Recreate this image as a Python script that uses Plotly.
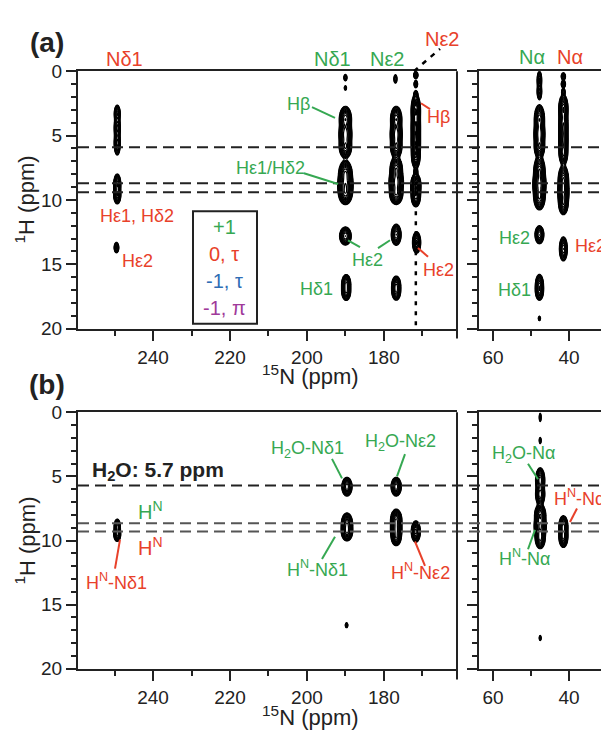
import numpy as np
import plotly.graph_objects as go

W, H = 601, 741

# ---------------- data ----------------
# peaks: (15N ppm, 1H ppm, sigma N, sigma H, amplitude)
peaks_a_left = [
    (249.3, 3.3, 0.35, 0.30, 0.6), (249.3, 4.4, 0.35, 0.45, 0.7), (249.3, 5.6, 0.35, 0.40, 0.7),
    (249.3, 8.8, 0.40, 0.35, 0.8), (249.3, 9.6, 0.40, 0.30, 0.8), (249.5, 13.7, 0.30, 0.20, 0.4),
    (190.0, 0.5, 0.25, 0.15, 0.2), (190.0, 1.3, 0.20, 0.12, 0.15),
    (190.0, 3.7, 0.65, 0.40, 1.0), (190.0, 4.9, 0.70, 0.50, 1.0), (190.0, 5.9, 0.65, 0.35, 1.0),
    (190.0, 7.9, 0.70, 0.40, 1.0), (190.0, 8.8, 0.80, 0.45, 1.2), (190.0, 9.5, 0.70, 0.35, 1.0),
    (190.0, 12.8, 0.65, 0.30, 0.8), (189.8, 16.5, 0.50, 0.30, 0.8), (189.8, 17.1, 0.50, 0.30, 0.8),
    (177.0, 0.6, 0.25, 0.20, 0.2),
    (176.8, 3.7, 0.60, 0.40, 1.0), (176.8, 4.9, 0.65, 0.50, 1.0), (176.8, 5.9, 0.60, 0.35, 1.0),
    (176.8, 7.6, 0.65, 0.40, 1.0), (176.8, 8.6, 0.75, 0.45, 1.2), (176.8, 9.5, 0.70, 0.35, 1.0),
    (176.8, 12.7, 0.55, 0.35, 0.8), (176.8, 16.6, 0.50, 0.30, 0.7), (176.8, 17.1, 0.50, 0.30, 0.7),
    (171.7, 0.3, 0.30, 0.15, 0.3), (171.7, 1.0, 0.25, 0.15, 0.3), (171.7, 1.8, 0.25, 0.15, 0.3),
    (171.7, 3.0, 0.50, 0.50, 1.0), (171.7, 4.3, 0.50, 0.60, 1.0), (171.7, 5.6, 0.50, 0.60, 1.0),
    (171.7, 6.6, 0.45, 0.40, 0.9), (171.7, 7.8, 0.25, 0.15, 0.3),
    (171.7, 8.9, 0.55, 0.40, 1.0), (171.7, 9.7, 0.50, 0.35, 0.9), (171.5, 13.3, 0.45, 0.35, 0.9),
]
peaks_a_right = [
    (47.8, 0.7, 0.30, 0.35, 0.4), (47.8, 1.6, 0.30, 0.30, 0.4),
    (47.8, 3.7, 0.55, 0.45, 1.0), (47.8, 4.9, 0.60, 0.50, 1.0), (47.8, 5.9, 0.55, 0.35, 1.0),
    (47.8, 7.7, 0.60, 0.45, 1.0), (47.8, 8.8, 0.70, 0.50, 1.2), (47.8, 9.8, 0.60, 0.40, 1.0),
    (47.8, 12.7, 0.50, 0.30, 0.8), (47.8, 16.6, 0.45, 0.35, 0.8), (47.8, 17.1, 0.45, 0.30, 0.7),
    (47.8, 19.2, 0.20, 0.12, 0.15),
    (41.5, 0.4, 0.30, 0.15, 0.3), (41.5, 1.0, 0.30, 0.15, 0.3), (41.5, 1.6, 0.25, 0.15, 0.25),
    (41.5, 2.9, 0.50, 0.45, 1.0), (41.5, 4.2, 0.50, 0.60, 1.0), (41.5, 5.5, 0.50, 0.60, 1.0),
    (41.5, 6.4, 0.45, 0.35, 0.9), (41.5, 8.4, 0.55, 0.45, 1.0), (41.5, 9.4, 0.60, 0.50, 1.1),
    (41.5, 10.3, 0.50, 0.35, 0.9), (41.5, 13.8, 0.45, 0.40, 0.8),
]
peaks_b_left = [
    (249.3, 8.9, 0.35, 0.25, 0.7), (249.3, 9.5, 0.40, 0.25, 0.7),
    (189.6, 5.8, 0.55, 0.30, 1.0), (189.6, 8.7, 0.60, 0.35, 1.0), (189.6, 9.3, 0.60, 0.30, 1.0),
    (189.7, 16.6, 0.20, 0.12, 0.2),
    (176.8, 5.8, 0.55, 0.30, 1.0), (176.8, 8.4, 0.60, 0.35, 1.0), (176.8, 9.2, 0.60, 0.40, 1.1),
    (176.8, 9.8, 0.50, 0.25, 0.7), (171.7, 9.3, 0.50, 0.35, 0.9),
]
peaks_b_right = [
    (47.6, 0.4, 0.15, 0.20, 0.2), (47.6, 2.2, 0.15, 0.15, 0.2),
    (47.6, 5.3, 0.50, 0.40, 1.0), (47.6, 6.4, 0.50, 0.35, 1.0),
    (47.6, 8.0, 0.60, 0.35, 1.0), (47.6, 8.9, 0.65, 0.40, 1.1), (47.6, 9.8, 0.55, 0.35, 0.9),
    (47.6, 17.6, 0.15, 0.12, 0.2),
    (41.5, 8.9, 0.50, 0.35, 0.9), (41.5, 9.7, 0.50, 0.35, 0.9),
]
ref_lines_a = [5.9, 8.7, 9.4]
ref_lines_b = [5.7, 8.65, 9.3]
ne2_column = 171.7
x_ticks_left = [240, 220, 200, 180]
x_ticks_right = [60, 40]
y_ticks = [0, 5, 10, 15, 20]
legend_labels = ["+1", "0, τ", "-1, τ", "-1, π"]

GREEN = "#36a852"
RED = "#e8412a"
BLUE = "#2f6db5"
PURPLE = "#a03a9a"
INK = "#222222"
FONT = "Liberation Sans, Arial, sans-serif"


def spectrum(peaks):
    cols = sorted(set(p[0] for p in peaks))
    xs = set()
    for c in cols:
        for d in np.arange(-2.5, 2.51, 0.1):
            xs.add(round(c + d, 2))
    xs = np.array(sorted(xs))
    ys = np.arange(-0.3, 20.31, 0.04)
    X, Y = np.meshgrid(xs, ys)
    Z = np.zeros_like(X)
    for n, h, sn, sh, a in peaks:
        Z += a * np.exp(-0.5 * ((X - n) / sn) ** 2 - 0.5 * ((Y - h) / sh) ** 2)
    return xs, ys, np.log10(Z + 1e-4).astype(np.float32)


def px(x):
    return x / W


def py(y):
    return 1 - y / H


fig = go.Figure()
for peaks, xa, ya in [(peaks_a_left, "x", "y"), (peaks_a_right, "x2", "y2"),
                      (peaks_b_left, "x3", "y3"), (peaks_b_right, "x4", "y4")]:
    xs, ys, zz = spectrum(peaks)
    fig.add_trace(go.Contour(
        x=xs, y=ys, z=zz, xaxis=xa, yaxis=ya,
        contours=dict(start=-1.3, end=0.3, size=0.12, coloring="none"),
        line=dict(color="black", width=1.2), showscale=False, hoverinfo="skip"))


def xaxis(domain, rng, ticks, anchor):
    return dict(domain=domain, range=rng, anchor=anchor, tickmode="array", tickvals=ticks,
                ticks="outside", ticklen=10, tickwidth=2, tickcolor=INK,
                showline=True, linecolor=INK, linewidth=2, mirror=True,
                showgrid=False, zeroline=False,
                minor=dict(dtick=10, tick0=0, ticks="outside", ticklen=5, tickwidth=2, tickcolor=INK),
                tickfont=dict(size=19, color=INK, family=FONT))


def yaxis(domain, anchor, labels):
    return dict(domain=domain, range=[20, 0], anchor=anchor, tickmode="array", tickvals=y_ticks,
                ticks="outside", ticklen=10, tickwidth=2, tickcolor=INK,
                showline=True, linecolor=INK, linewidth=2, mirror=False,
                showgrid=False, zeroline=False, showticklabels=labels,
                minor=dict(dtick=1, tick0=0, ticks="outside", ticklen=5, tickwidth=2, tickcolor=INK),
                tickfont=dict(size=19, color=INK, family=FONT))


XL = [px(78), px(457)]
XR = [px(479), 1.0]
YA = [py(328), py(63)]
YB = [py(678), py(414)]
RNG_L = [259.5, 161.0]
RNG_R = [63.7, 31.6]

shapes = []
# reference dashed lines
for v in ref_lines_a:
    shapes.append(dict(type="line", xref="paper", yref="y", x0=px(78), x1=1.0, y0=v, y1=v,
                       line=dict(color=INK, width=2, dash="11px,6px")))
for i, v in enumerate(ref_lines_b):
    shapes.append(dict(type="line", xref="paper", yref="y3", x0=px(78), x1=1.0, y0=v, y1=v,
                       line=dict(color=INK if i == 0 else "#555555", width=2, dash="11px,6px")))
# vertical dotted line through N-epsilon2 column
shapes.append(dict(type="line", xref="x", yref="y", x0=ne2_column, x1=ne2_column, y0=0, y1=20,
                   line=dict(color="black", width=2.5, dash="4px,6px")))
shapes.append(dict(type="line", xref="paper", yref="paper", x0=px(414), y0=py(63), x1=px(440), y1=py(40),
                   line=dict(color="black", width=2.5, dash="5px,6px")))
# right border of left panels (extends below axis)
for top, bot in [(63, 338), (414, 689)]:
    shapes.append(dict(type="line", xref="paper", yref="paper", x0=px(457), x1=px(457),
                       y0=py(top), y1=py(bot), line=dict(color=INK, width=2)))
# legend box
shapes.append(dict(type="rect", xref="paper", yref="paper", x0=px(193), x1=px(257),
                   y0=py(207), y1=py(323), line=dict(color=INK, width=2), fillcolor="rgba(0,0,0,0)"))
# leader lines
leaders = [
    ((312, 100), (335, 111), GREEN), ((421, 96), (430, 102), RED),
    ((304, 168), (338, 179), GREEN), ((348, 237), (360, 244), GREEN),
    ((390, 237), (378, 245), GREEN), ((418, 245), (428, 254), RED),
    ((115, 575), (120, 545), RED), ((332, 462), (342, 482), GREEN),
    ((405, 457), (397, 480), GREEN), ((322, 565), (335, 542), GREEN),
    ((425, 572), (415, 547), RED), ((528, 467), (538, 483), GREEN),
    ((528, 555), (535, 535), GREEN), ((570, 527), (577, 513), RED),
]
for (x0, y0), (x1, y1), c in leaders:
    shapes.append(dict(type="line", xref="paper", yref="paper", x0=px(x0), y0=py(y0),
                       x1=px(x1), y1=py(y1), line=dict(color=c, width=2)))

ann = []


def A(text, x, y, color=INK, size=18, xanchor="center", angle=0):
    ann.append(dict(text=text, x=px(x), y=py(y), xref="paper", yref="paper", showarrow=False,
                    xanchor=xanchor, yanchor="middle", textangle=angle,
                    font=dict(size=size, color=color, family=FONT)))


A("<b>(a)</b>", 47, 33, size=28)
A("Nδ1", 124, 50, RED, 20)
A("Nδ1", 332, 50, GREEN, 20)
A("Nε2", 387, 50, GREEN, 20)
A("Nε2", 442, 30, RED, 20)
A("Nα", 532, 48, GREEN, 20)
A("Nα", 570, 48, RED, 20)
A("Hβ", 298, 97, GREEN)
A("Hβ", 438, 110, RED)
A("Hε1/Hδ2", 270, 163, GREEN)
A("Hε1, Hδ2", 137, 212, RED)
A("Hε2", 137, 258, RED)
for lab, yy, c in zip(legend_labels, [223, 251, 279, 307], [GREEN, RED, BLUE, PURPLE]):
    A(lab, 224, yy, c, 20)
A("Hε2", 367, 257, GREEN)
A("Hε2", 438, 268, RED)
A("Hδ1", 316, 287, GREEN)
A("Hε2", 514, 235, GREEN)
A("Hε2", 573, 243, RED, xanchor="left")
A("Hδ1", 514, 288, GREEN)
A("<sup>15</sup>N (ppm)", 310, 376, size=22)
A("<sup>1</sup>H (ppm)", 25, 195, size=22, angle=-90)

A("<b>(b)</b>", 47, 385, size=28)
A("<b>H<sub>2</sub>O: 5.7 ppm</b>", 158, 474, size=21)
A("H<sup>N</sup>", 150, 515, GREEN, 20)
A("H<sup>N</sup>", 150, 552, RED, 20)
A("H<sup>N</sup>-Nδ1", 116, 588, RED)
A("H<sub>2</sub>O-Nδ1", 307, 452, GREEN)
A("H<sub>2</sub>O-Nε2", 400, 445, GREEN)
A("H<sup>N</sup>-Nδ1", 317, 575, GREEN)
A("H<sup>N</sup>-Nε2", 420, 578, RED)
A("H<sub>2</sub>O-Nα", 523, 457, GREEN)
A("H<sup>N</sup>-Nα", 525, 563, GREEN)
A("H<sup>N</sup>-Nα", 552, 502, RED, xanchor="left")
A("<sup>15</sup>N (ppm)", 310, 727, size=22)
A("<sup>1</sup>H (ppm)", 25, 546, size=22, angle=-90)

fig.update_layout(
    width=W, height=H, margin=dict(l=0, r=0, t=0, b=0),
    paper_bgcolor="white", plot_bgcolor="white", showlegend=False, hovermode=False,
    font=dict(family=FONT, color=INK),
    xaxis=xaxis(XL, RNG_L, x_ticks_left, "y"),
    xaxis2=xaxis(XR, RNG_R, x_ticks_right, "y2"),
    xaxis3=xaxis(XL, RNG_L, x_ticks_left, "y3"),
    xaxis4=xaxis(XR, RNG_R, x_ticks_right, "y4"),
    yaxis=yaxis(YA, "x", True),
    yaxis2=yaxis(YA, "x2", False),
    yaxis3=yaxis(YB, "x3", True),
    yaxis4=yaxis(YB, "x4", False),
    shapes=shapes, annotations=ann,
)

fig.write_html("out.html")
